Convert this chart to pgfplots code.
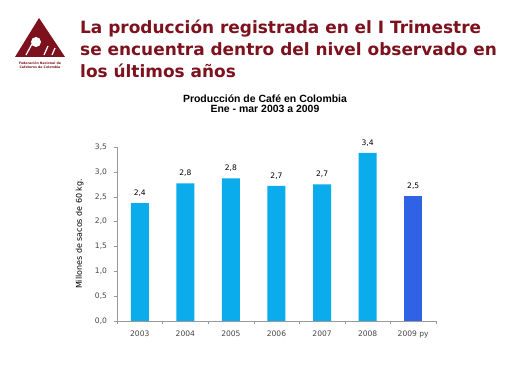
\documentclass[border=0pt]{standalone}
\usepackage{pgfplots}
\pgfplotsset{compat=1.18}
\usepackage{pgfplotstable}
\usepackage{fontspec}
\setmainfont{DejaVu Sans}
\newfontfamily\arial{Liberation Sans}
\definecolor{maroon}{RGB}{125,18,30}
\definecolor{lblue}{RGB}{10,172,235}
\definecolor{dblue}{RGB}{48,98,230}
\definecolor{txt}{RGB}{70,70,70}
\pgfplotstableread{
x y lab
0 2.37 {2,4}
1 2.77 {2,8}
2 2.87 {2,8}
3 2.72 {2,7}
4 2.75 {2,7}
5 3.38 {3,4}
}\mainbars
\pgfplotstableread{
x y lab
6 2.51 {2,5}
}\lastbar
\begin{document}
\begin{tikzpicture}[x=1bp,y=1bp]
\useasboundingbox (0,0) rectangle (512bp,378bp);
\fill[white] (0,0) rectangle (512bp,378bp);
% logo
\fill[maroon] (39bp,360bp) -- (15bp,321bp) -- (65bp,321bp) -- cycle;
\fill[white] (36bp,336bp) circle (5bp);
\draw[white, line width=1.2bp] (26bp,323bp) -- (32bp,334bp) (44bp,323bp) -- (48bp,332bp) (52bp,323bp) -- (55bp,330bp);
\node[maroon, font=\fontsize{3.2}{3.8}\selectfont\bfseries, align=center] at (40bp,313bp) {Federación Nacional de\\Cafeteros de Colombia};
% main title
\node[anchor=base west, text=maroon, font=\fontsize{17}{20}\selectfont\bfseries, inner sep=0] at (80bp,344bp) {La producción registrada en el I Trimestre};
\node[anchor=base west, text=maroon, font=\fontsize{17}{20}\selectfont\bfseries, inner sep=0] at (80bp,322bp) {se encuentra dentro del nivel observado en};
\node[anchor=base west, text=maroon, font=\fontsize{17}{20}\selectfont\bfseries, inner sep=0] at (80bp,300bp) {los últimos años};
% chart title
\node[anchor=base, font=\arial\fontsize{10.5}{12}\selectfont\bfseries, inner sep=0] at (265bp,275bp) {Producción de Café en Colombia};
\node[anchor=base, font=\arial\fontsize{10.5}{12}\selectfont\bfseries, inner sep=0] at (265bp,265bp) {Ene - mar 2003 a 2009};
\begin{axis}[
  at={(117bp,57bp)}, anchor=south west,
  width=319bp, height=174bp, scale only axis,
  xmin=-0.5, xmax=6.5, ymin=0, ymax=3.5,
  axis x line*=bottom, axis y line*=left,
  axis line style={draw=gray!80, -},
  ytick={0,0.5,...,3.5},
  xtick={0,...,6},
  xticklabels={2003,2004,2005,2006,2007,2008,2009 py},
  minor xtick={-0.5,0.5,...,6.5},
  major x tick style={draw=none},
  minor x tick style={draw=gray!80},
  y tick style={draw=gray!80},
  tick align=outside,
  major tick length=3.5bp, minor tick length=3.5bp,
  tick label style={font=\fontsize{7.6}{9}\selectfont, text=txt},
  xticklabel style={yshift=-3bp},
  yticklabel style={xshift=-3bp},
  /pgf/number format/assume math mode=true,
  yticklabel style={/pgf/number format/.cd, fixed, fixed zerofill, precision=1, use comma},
  ylabel={Millones de sacos de 60 kg.},
  ylabel style={font=\fontsize{8}{9}\selectfont, at={(axis description cs:0,0.5)}, anchor=south, yshift=30bp},
  ybar, bar width=18bp, bar shift=0pt,
  nodes near coords, point meta=explicit symbolic,
  every node near coord/.append style={font=\fontsize{7.6}{9}\selectfont, text=black, yshift=3bp},
  clip=false,
]
\addplot[draw=none, fill=lblue] table[x=x, y=y, meta=lab] {\mainbars};
\addplot[draw=none, fill=dblue] table[x=x, y=y, meta=lab] {\lastbar};
\end{axis}
\end{tikzpicture}
\end{document}
